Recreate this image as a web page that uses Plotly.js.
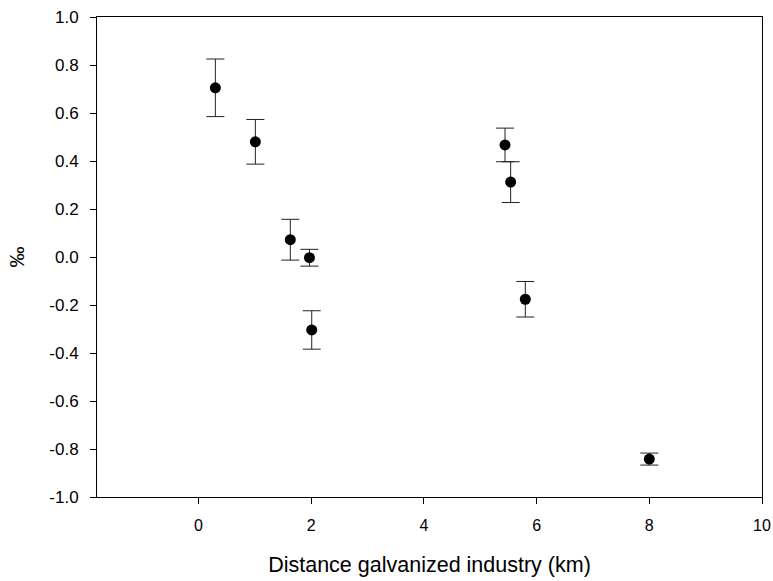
<!DOCTYPE html>
<html>
<head>
<meta charset="utf-8">
<script src="https://cdn.plot.ly/plotly-3.0.1.min.js"></script>
<style>html,body{margin:0;padding:0;background:#fff}#chart{width:773px;height:581px}</style>
</head>
<body>
<div id="chart"></div>
<script>
const distanceKm = [0.30, 1.01, 1.63, 1.97, 2.01, 5.44, 5.54, 5.80, 8.00];
const deltaPermil = [0.705, 0.480, 0.072, -0.003, -0.304, 0.467, 0.312, -0.176, -0.842];
const errorPermil = [0.120, 0.093, 0.085, 0.035, 0.080, 0.070, 0.085, 0.074, 0.025];
const xTicks = [0, 2, 4, 6, 8, 10];
const yTicks = [-1.0, -0.8, -0.6, -0.4, -0.2, 0.0, 0.2, 0.4, 0.6, 0.8, 1.0];

const trace = {
  x: distanceKm,
  y: deltaPermil,
  type: 'scatter',
  mode: 'markers',
  marker: {color: '#000', size: 11},
  error_y: {type: 'data', array: errorPermil, visible: true, color: '#222', thickness: 1, width: 9},
  hoverinfo: 'x+y'
};

const fontFam = 'Liberation Sans, Arial, sans-serif';
const layout = {
  width: 773, height: 581,
  margin: {l: 97, r: 11, t: 17, b: 84},
  paper_bgcolor: '#fff', plot_bgcolor: '#fff',
  showlegend: false,
  font: {family: fontFam, color: '#000', size: 16},
  xaxis: {
    range: [-1.8, 10],
    tickvals: xTicks, ticktext: xTicks.map(String),
    ticks: 'outside', ticklen: 6, tickcolor: '#000', tickwidth: 1,
    showline: true, linecolor: '#000', linewidth: 1, mirror: true,
    showgrid: false, zeroline: false,
    tickfont: {size: 16, family: fontFam},
    ticklabelstandoff: 8,
    title: {text: 'Distance galvanized industry (km)', font: {size: 21.5, family: fontFam}, standoff: 23}
  },
  yaxis: {
    range: [-1.0, 1.0],
    tickvals: yTicks, ticktext: yTicks.map(v => v.toFixed(1)),
    ticks: 'outside', ticklen: 6, tickcolor: '#000', tickwidth: 1,
    showline: true, linecolor: '#000', linewidth: 1, mirror: true,
    showgrid: false, zeroline: false,
    tickfont: {size: 17, family: fontFam},
    ticklabelstandoff: 8,
    title: {text: '‰', font: {size: 21, family: fontFam}, standoff: 18}
  }
};

Plotly.newPlot('chart', [trace], layout, {displayModeBar: false, staticPlot: true});
</script>
</body>
</html>
